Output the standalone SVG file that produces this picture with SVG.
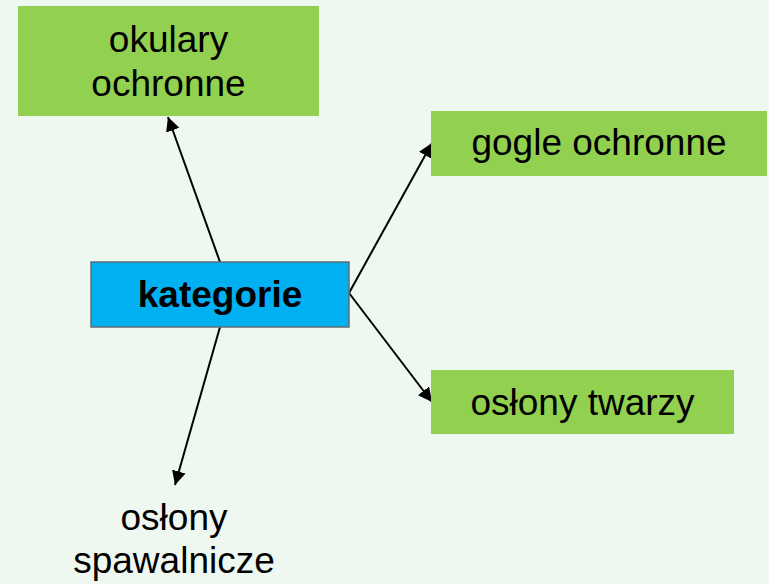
<svg xmlns="http://www.w3.org/2000/svg" width="769" height="584" viewBox="0 0 769 584">
<defs>
<style>
.g{fill:#92D050}
.t{font-family:"Liberation Sans",Arial,sans-serif;font-size:37px;fill:#000;text-anchor:middle}
.b{font-weight:bold}
.c{stroke:#000;stroke-width:2;fill:none;marker-end:url(#ah)}
</style>
<marker id="ah" viewBox="0 0 10 10" refX="10" refY="5" markerWidth="7" markerHeight="7" markerUnits="strokeWidth" orient="auto">
<path d="M0,0 L10,5 L0,10 z" fill="#000"/>
</marker>
</defs>
<rect width="769" height="584" fill="#EFF7F1"/>
<g id="connectors">
<line class="c" x1="220" y1="262" x2="168" y2="117"/>
<line class="c" x1="220" y1="327" x2="175" y2="485"/>
<line class="c" x1="349" y1="293" x2="432" y2="143"/>
<line class="c" x1="349" y1="293" x2="432" y2="402"/>
</g>
<g id="okulary">
<rect class="g" x="18" y="6" width="301" height="110"/>
<text class="t" x="168.5" y="52">okulary</text>
<text class="t" x="168.5" y="96">ochronne</text>
</g>
<g id="kategorie">
<rect x="91" y="262" width="258" height="65" fill="#00B0F0" stroke="#5F6F75" stroke-width="1.5"/>
<text class="t b" x="220" y="307">kategorie</text>
</g>
<g id="gogle">
<rect class="g" x="431" y="111" width="336" height="65"/>
<text class="t" x="599" y="155">gogle ochronne</text>
</g>
<g id="twarzy">
<rect class="g" x="431" y="370" width="303" height="64"/>
<text class="t" x="582.5" y="415">osłony twarzy</text>
</g>
<g id="spawalnicze">
<text class="t" x="174" y="530">osłony</text>
<text class="t" x="174" y="573">spawalnicze</text>
</g>
</svg>
